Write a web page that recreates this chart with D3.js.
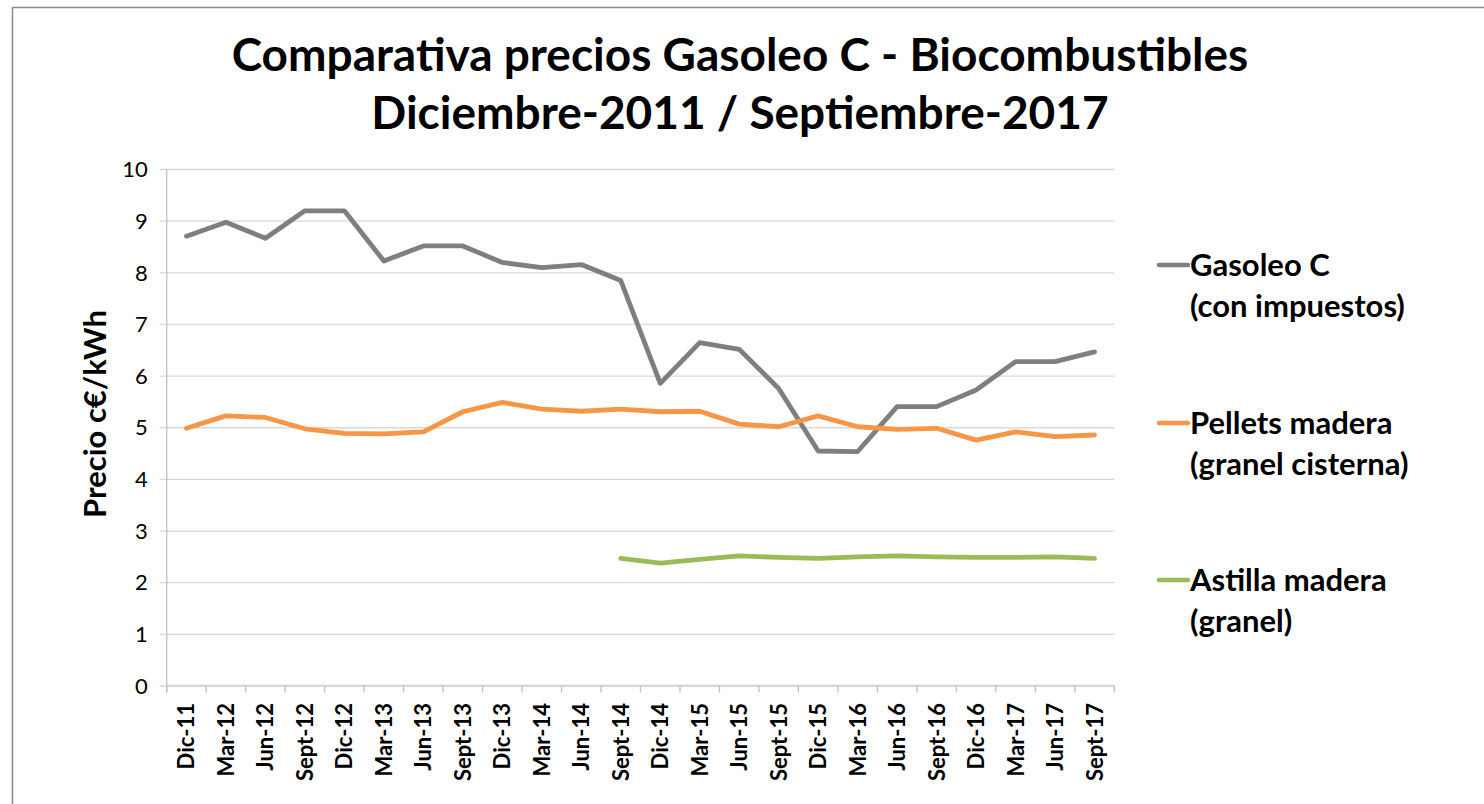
<!DOCTYPE html>
<html>
<head>
<meta charset="utf-8">
<script src="https://cdn.jsdelivr.net/npm/d3@7"></script>
<style>
  html, body { margin: 0; padding: 0; background: #fff; }
  svg { display: block; }
  text { font-family: Lato, "Open Sans", sans-serif; fill: #000; }
</style>
</head>
<body>
<svg id="chart" width="1484" height="804"></svg>
<script>
const categories = ["Dic-11","Mar-12","Jun-12","Sept-12","Dic-12","Mar-13","Jun-13","Sept-13","Dic-13","Mar-14","Jun-14","Sept-14","Dic-14","Mar-15","Jun-15","Sept-15","Dic-15","Mar-16","Jun-16","Sept-16","Dic-16","Mar-17","Jun-17","Sept-17"];
const gasoleo = [8.70,8.97,8.66,9.19,9.19,8.22,8.51,8.51,8.19,8.09,8.15,7.84,5.85,6.64,6.51,5.75,4.54,4.53,5.40,5.40,5.72,6.27,6.27,6.46];
const pellets = [4.98,5.22,5.19,4.97,4.88,4.87,4.91,5.30,5.48,5.35,5.31,5.35,5.30,5.31,5.06,5.01,5.22,5.01,4.96,4.98,4.75,4.91,4.82,4.85];
const astilla = [null,null,null,null,null,null,null,null,null,null,null,2.46,2.37,2.44,2.51,2.48,2.46,2.49,2.51,2.49,2.48,2.48,2.49,2.46];
const yTicks = [0,1,2,3,4,5,6,7,8,9,10];
const seriesNames = [["Gasoleo C","(con impuestos)"],["Pellets madera","(granel cisterna)"],["Astilla madera","(granel)"]];
const seriesColors = ["#7f7f7f","#f79646","#9bbb59"];
const titleLines = ["Comparativa precios Gasoleo C - Biocombustibles","Diciembre-2011 / Septiembre-2017"];
const yTitle = "Precio c€/kWh";

const svg = d3.select("#chart");
const L = 166.7, R = 1114.3, T = 169, B = 685.5;

// outer frame
svg.append("rect").attr("x",12.5).attr("y",7.5).attr("width",1500).attr("height",820)
  .attr("fill","none").attr("stroke","#8a8a8a").attr("stroke-width",1.5);

const x = d3.scaleBand().domain(categories).range([L,R]).padding(0);
const y = d3.scaleLinear().domain([0,10]).range([B,T]);
const cx = d => x(d) + x.bandwidth()/2;

// gridlines via axis
const gy = svg.append("g").attr("transform",`translate(${R},0)`).call(d3.axisLeft(y).tickValues(yTicks).tickSize(R-L+7).tickFormat(""));
gy.select(".domain").remove();
gy.selectAll("line").attr("stroke","#d9d9d9").attr("stroke-width",1.3);

// y labels
const gyl = svg.append("g").attr("transform",`translate(${L},0)`).call(d3.axisLeft(y).tickValues(yTicks).tickSize(0).tickPadding(19));
gyl.select(".domain").remove();
gyl.selectAll("text").style("font-family","Lato, sans-serif").style("font-size","22px").attr("fill","#1a1a1a").attr("dy","0.35em");

// y axis line
svg.append("line").attr("x1",L).attr("x2",L).attr("y1",T).attr("y2",B+7).attr("stroke","#bfbfbf").attr("stroke-width",1.3);

// x axis ticks at band edges
const edges = categories.map(c => x(c)).concat([R]);
svg.append("g").selectAll("line").data(edges).join("line")
  .attr("x1",d=>d).attr("x2",d=>d).attr("y1",B).attr("y2",B+7)
  .attr("stroke","#bfbfbf").attr("stroke-width",1.3);
svg.append("line").attr("x1",L).attr("x2",R).attr("y1",B).attr("y2",B).attr("stroke","#d0d0d0").attr("stroke-width",1.3);

// x labels
svg.append("g").selectAll("text").data(categories).join("text")
  .attr("transform",d=>`translate(${cx(d)+8},703) rotate(-90)`)
  .attr("text-anchor","end")
  .style("font-size","22px").style("font-weight","bold")
  .text(d=>d);

// lines
const allSeries = [gasoleo, pellets, astilla];
const line = d3.line().defined(d=>d.v!=null).x(d=>cx(d.c)).y(d=>y(d.v));
allSeries.forEach((vals,i)=>{
  const pts = categories.map((c,j)=>({c, v: vals[j]}));
  svg.append("path").datum(pts).attr("d",line).attr("fill","none")
    .attr("stroke",seriesColors[i]).attr("stroke-width",4.8)
    .attr("stroke-linejoin","round").attr("stroke-linecap","round");
});

// titles
svg.append("text").attr("x",740).attr("y",71).attr("text-anchor","middle")
  .style("font-size","46px").style("font-weight","bold").text(titleLines[0]);
svg.append("text").attr("x",740).attr("y",129).attr("text-anchor","middle")
  .style("font-size","46px").style("font-weight","bold").text(titleLines[1]);

// y title
svg.append("text").attr("transform",`translate(106,414) rotate(-90)`).attr("text-anchor","middle")
  .style("font-size","31px").style("font-weight","bold").text(yTitle);

// legend
const legY = [265, 423, 580];
seriesNames.forEach((nm,i)=>{
  const g = svg.append("g").attr("transform",`translate(0,${legY[i]})`);
  g.append("line").attr("x1",1159).attr("x2",1188).attr("y1",0).attr("y2",0)
    .attr("stroke",seriesColors[i]).attr("stroke-width",4.5).attr("stroke-linecap","round");
  g.append("text").attr("x",1190).attr("y",11).style("font-size","31px").style("font-weight","bold").text(nm[0]);
  g.append("text").attr("x",1190).attr("y",52).style("font-size","31px").style("font-weight","bold").text(nm[1]);
});
</script>
</body>
</html>
